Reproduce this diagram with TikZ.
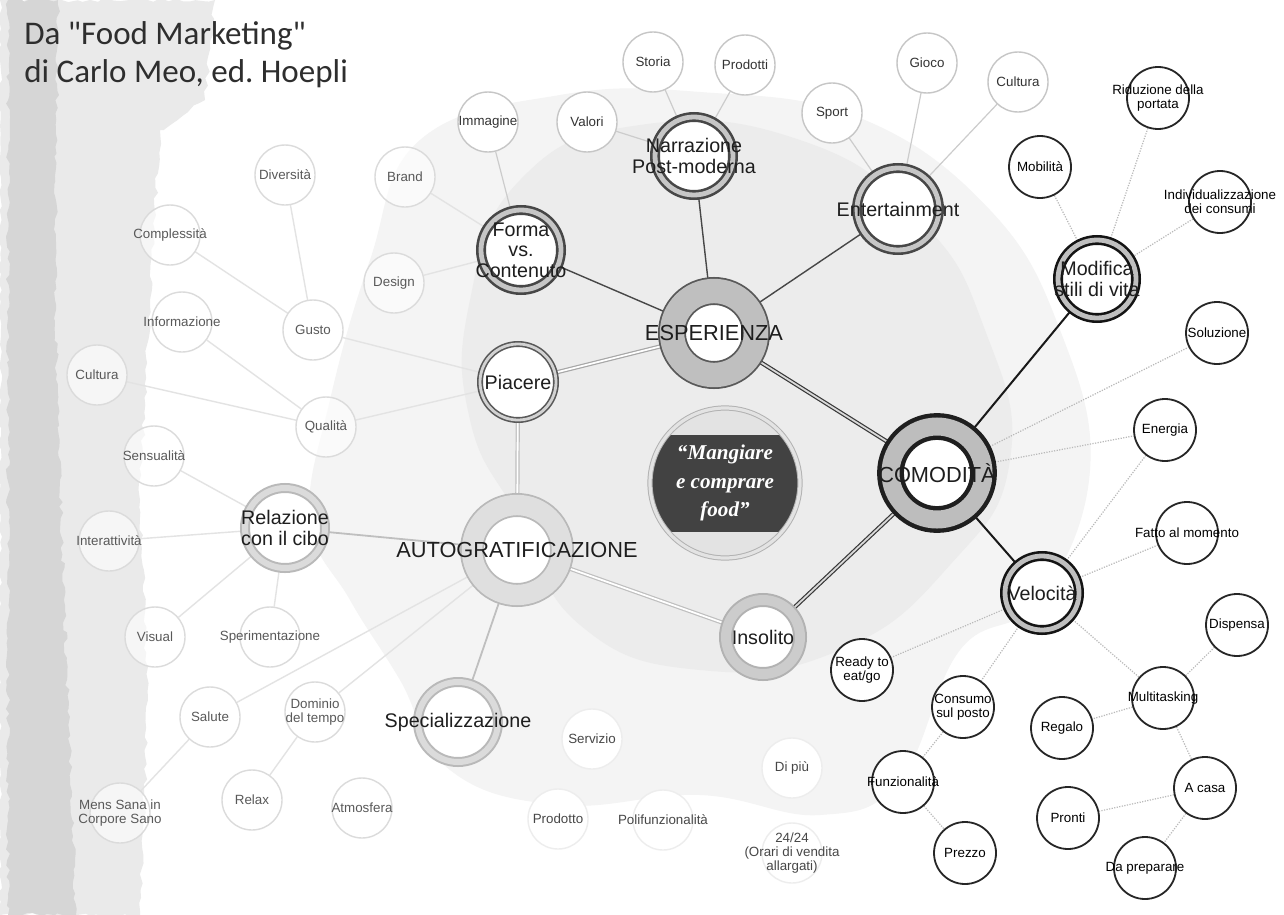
\documentclass[tikz,border=0pt]{standalone}
\usepackage{fontspec}
\setmainfont{Liberation Sans}
\newfontfamily\titlefont{Carlito}[Ligatures=TeXOff]
\newfontfamily\mottofont{Liberation Serif}
\usetikzlibrary{decorations.pathmorphing}
\pgfdeclarelayer{haze}
\pgfdeclarelayer{links}
\pgfsetlayers{haze,links,main}
\definecolor{ink}{RGB}{30,30,30}
\definecolor{stripgray}{RGB}{214,214,214}
\definecolor{bandgray}{RGB}{234,234,234}

\begin{document}
\begin{tikzpicture}[x=.25mm, y=-.25mm,
 leaf/.style={circle, minimum size=15mm, inner sep=0pt, line width=.35mm, fill=white},
 leaftxt/.style={font=\fontsize{9.5}{10}\selectfont, align=center, inner sep=0pt, fill opacity=1, text opacity=1},
 pale/.style={leaf, draw=gray!28, fill opacity=.6, label={[leaftxt, text=black!65]center:#1}},
 faint/.style={leaf, draw=gray!14, label={[leaftxt, text=black!72]center:#1}},
 soft/.style={leaf, draw=gray!45, label={[leaftxt, text=black!80]center:#1}},
 dark/.style={leaf, draw=black!85, line width=.45mm, minimum size=15.5mm, label={[leaftxt, text=black]center:#1}},
 ringtxt/.style={font=\fontsize{14}{14.5}\selectfont, align=center, inner sep=0pt, text=ink},
 hubtxt/.style={font=\fontsize{15.5}{16}\selectfont, inner sep=0pt, text=ink},
 ring/.style={circle, inner sep=0pt, fill=white, minimum size=19.5mm, line width=.65mm, double distance=1.2mm, draw=black!72, double=gray!45, label={[ringtxt]center:#1}},
 blackring/.style={ring={#1}, draw=black!92, double=gray!50},
 lightring/.style={ring={#1}, draw=gray!55, double=gray!28, line width=.5mm, double distance=1.5mm, minimum size=20mm},
 hub/.style={circle, inner sep=0pt, fill=white, label={[hubtxt]center:#1}},
 stem/.style={draw=black!72, line width=.35mm},
 blackstem/.style={draw=black!90, line width=.5mm},
 palestem/.style={draw=gray!50, line width=.45mm},
 bond/.style={draw=black!78, line width=.3mm, double=gray!30, double distance=.45mm},
 palebond/.style={draw=gray!50, line width=.3mm, double=white, double distance=.45mm},
 twig/.style={draw=gray!22, line width=.35mm},
 softtwig/.style={draw=gray!40, line width=.3mm},
 dottwig/.style={draw=gray!55, line width=.3mm, densely dotted}]
\useasboundingbox (0,0) rectangle (1284,915);

% paper, left margin strip and grey wash behind the hubs
\begin{pgfonlayer}{haze}
\fill[white] (0,0) rectangle (1284,915);
\fill[bandgray, decorate, decoration={random steps, segment length=5pt, amplitude=1.5pt}]
  (0,0) -- (215,0) -- (205,100) -- (160,130) -- (150,300) -- (140,500) -- (148,700) -- (140,915) -- (0,915) -- cycle;
\fill[stripgray, decorate, decoration={random steps, segment length=4pt, amplitude=1.5pt}]
  (8,0) -- (58,0) -- (55,300) -- (64,600) -- (76,915) -- (8,915) -- cycle;
\fill[gray!9] plot[smooth cycle, tension=.7] coordinates {(420,140) (560,95) (700,92) (860,118) (990,210) (1060,330) (1090,470) (1040,600) (960,650) (900,780) (820,815) (700,795) (560,805) (450,770) (400,680) (350,600) (310,520) (330,400) (370,260)};
\fill[gray!15] plot[smooth cycle, tension=.8] coordinates {(520,180) (640,125) (800,140) (920,220) (985,330) (1010,460) (950,565) (840,650) (700,670) (580,625) (520,520) (470,420) (470,300)};
\end{pgfonlayer}

\node[anchor=north west, align=left, inner sep=0pt, text=black!82, font=\titlefont\fontsize{23.5}{27.5}\selectfont] (title) at (24,21) {Da "Food Marketing"\\di Carlo Meo, ed.\ Hoepli};

% motto in the middle
\node[circle, minimum size=37.5mm, inner sep=0pt, draw=gray!60, line width=.25mm, fill=gray!22, double=gray!22, double distance=.8mm,
  path picture={\fill[black!74] ([yshift=12mm]path picture bounding box.west) rectangle ([yshift=-12.2mm]path picture bounding box.east);},
  label={[text=white, align=center, inner sep=0pt, font=\mottofont\bfseries\itshape\fontsize{15}{20}\selectfont]center:“Mangiare\\e comprare\\food”}] (motto) at (725,483) {};

% hubs
\node[hub={ESPERIENZA}, minimum size=21mm, line width=.45mm, double distance=6.1mm, draw=black!65, double=gray!50] (esp) at (714,333) {};
\node[hub={COMODITÀ}, minimum size=23.25mm, line width=1.1mm, double distance=4.5mm, draw=black!88, double=gray!52] (comodita) at (937,473) {};
\node[hub={AUTOGRATIFICAZIONE}, minimum size=22.5mm, line width=.45mm, double distance=5.1mm, draw=gray!55, double=gray!25] (auto) at (517,550) {};

% second ring
\node[ring={Narrazione\\Post-moderna}] (narrazione) at (694,156) {};
\node[ring={Forma\\vs.\\Contenuto}, minimum size=20mm] (forma) at (521,250) {};
\node[ring={Entertainment}, minimum size=20.5mm] (entertainment) at (898,209) {};
\node[ring={Piacere}, minimum size=19mm, line width=.4mm, double distance=.7mm, draw=black!65, double=gray!35] (piacere) at (518,382) {};
\node[blackring={Modifica\\stili di vita}] (modifica) at (1097,279) {};
\node[blackring={Velocità}, minimum size=18.5mm] (velocita) at (1042,593) {};
\node[lightring={Relazione\\con il cibo}] (relazione) at (285,528) {};
\node[lightring={Specializzazione}] (specializzazione) at (458,722) {};
\node[lightring={Insolito}, minimum size=18.5mm, double distance=2.5mm, draw=gray!60, double=gray!40] (insolito) at (763,637) {};

% leaves, left side
\node[pale={Diversità}] (diversita) at (285,175) {};
\node[pale={Brand}] (brand) at (405,177) {};
\node[pale={Complessità}] (complessita) at (170,235) {};
\node[pale={Design}] (design) at (394,283) {};
\node[pale={Informazione}] (informazione) at (182,322) {};
\node[pale={Gusto}] (gusto) at (313,330) {};
\node[pale={Cultura}] (culturasx) at (97,375) {};
\node[pale={Qualità}] (qualita) at (326,427) {};
\node[pale={Sensualità}] (sensualita) at (154,456) {};
\node[pale={Interattività}] (interattivita) at (109,541) {};
\node[pale={Visual}] (visual) at (155,637) {};
\node[pale={Sperimentazione}] (sperimentazione) at (270,637) {};
\node[pale={Salute}] (salute) at (210,717) {};
\node[pale={Dominio\\del tempo}] (dominio) at (315,712) {};
\node[pale={Mens Sana in\\Corpore Sano}] (mens) at (120,813) {};
\node[pale={Relax}] (relax) at (252,800) {};
\node[pale={Atmosfera}] (atmosfera) at (362,808) {};

% leaves, bottom
\node[faint={Servizio}] (servizio) at (592,739) {};
\node[faint={Prodotto}] (prodotto) at (558,819) {};
\node[faint={Polifunzionalità}] (polifunzionalita) at (663,820) {};
\node[faint={Di più}] (dipiu) at (792,768) {};
\node[faint={24/24\\(Orari di vendita\\allargati)}] (orari) at (792,853) {};

% leaves, top
\node[soft={Immagine}] (immagine) at (488,122) {};
\node[soft={Valori}] (valori) at (587,122) {};
\node[soft={Storia}] (storia) at (653,62) {};
\node[soft={Prodotti}] (prodotti) at (745,65) {};
\node[soft={Sport}] (sport) at (832,113) {};
\node[soft={Gioco}] (gioco) at (927,63) {};
\node[soft={Cultura}] (culturadx) at (1018,82) {};

% leaves, right side
\node[dark={Mobilità}] (mobilita) at (1040,167) {};
\node[dark={Riduzione della\\portata}] (riduzione) at (1158,98) {};
\node[dark={Individualizzazione\\dei consumi}] (individualizzazione) at (1220,202) {};
\node[dark={Soluzione}] (soluzione) at (1217,333) {};
\node[dark={Energia}] (energia) at (1165,430) {};
\node[dark={Fatto al momento}] (fatto) at (1187,533) {};
\node[dark={Dispensa}] (dispensa) at (1237,625) {};
\node[dark={Ready to\\eat/go}] (ready) at (862,670) {};
\node[dark={Consumo\\sul posto}] (consumo) at (963,707) {};
\node[dark={Funzionalità}] (funzionalita) at (903,782) {};
\node[dark={Prezzo}] (prezzo) at (965,853) {};
\node[dark={Regalo}] (regalo) at (1062,728) {};
\node[dark={Multitasking}] (multitasking) at (1163,698) {};
\node[dark={A casa}] (acasa) at (1205,788) {};
\node[dark={Pronti}] (pronti) at (1068,818) {};
\node[dark={Da preparare}] (dapreparare) at (1145,868) {};

\begin{pgfonlayer}{links}
% hub to hub
\draw[bond] (esp) -- (comodita);
\draw[bond] (insolito) -- (comodita);
\draw[palebond] (piacere) -- (auto);
\draw[palebond] (auto) -- (insolito);
\draw[palebond, draw=gray!70] (piacere) -- (esp);
% hub to second ring
\draw[stem] (esp) -- (forma);
\draw[stem] (esp) -- (narrazione);
\draw[stem] (esp) -- (entertainment);
\draw[blackstem] (comodita) -- (modifica);
\draw[blackstem] (comodita) -- (velocita);
\draw[palestem] (auto) -- (relazione);
\draw[palestem] (auto) -- (specializzazione);
% leaves
\draw[twig] (diversita) -- (gusto) (complessita) -- (gusto) (gusto) -- (piacere)
  (informazione) -- (qualita) (culturasx) -- (qualita) (qualita) -- (piacere)
  (brand) -- (forma) (design) -- (forma)
  (sensualita) -- (relazione) (interattivita) -- (relazione) (visual) -- (relazione) (sperimentazione) -- (relazione)
  (salute) -- (auto) (dominio) -- (auto) (mens) -- (salute) (relax) -- (dominio);
\draw[softtwig] (immagine) -- (forma) (valori) -- (narrazione) (storia) -- (narrazione) (prodotti) -- (narrazione)
  (sport) -- (entertainment) (gioco) -- (entertainment) (culturadx) -- (entertainment);
\draw[dottwig] (mobilita) -- (modifica) (riduzione) -- (modifica) (individualizzazione) -- (modifica)
  (comodita) -- (soluzione) (comodita) -- (energia) (velocita) -- (energia) (velocita) -- (fatto)
  (velocita) -- (ready) (velocita) -- (consumo) (consumo) -- (funzionalita) (funzionalita) -- (prezzo)
  (velocita) -- (multitasking) (multitasking) -- (dispensa) (multitasking) -- (regalo)
  (multitasking) -- (acasa) (acasa) -- (pronti) (acasa) -- (dapreparare);
\end{pgfonlayer}
\end{tikzpicture}
\end{document}
